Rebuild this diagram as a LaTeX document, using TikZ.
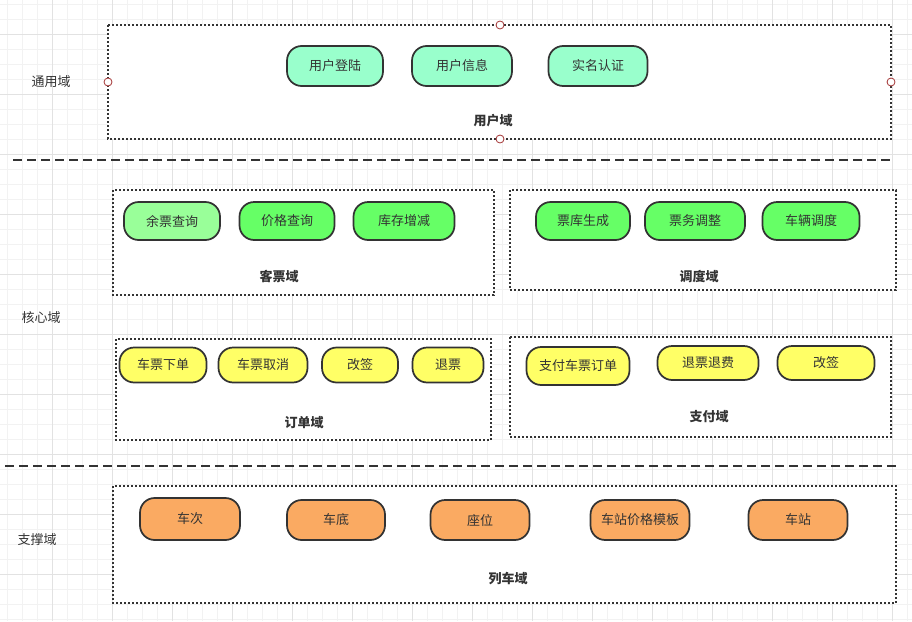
\documentclass[tikz,border=0pt]{standalone}
\usepackage{fontspec}
\setmainfont{Noto Sans CJK SC}
\usepackage{tikz}
\usetikzlibrary{positioning}

\definecolor{ink}{HTML}{333333}
\definecolor{mint}{HTML}{99FFCC}
\definecolor{paleleaf}{HTML}{99FF99}
\definecolor{leaf}{HTML}{66FF66}
\definecolor{lemon}{HTML}{FFFF66}
\definecolor{peach}{HTML}{FAAA62}
\definecolor{gridminor}{HTML}{F2F2F2}
\definecolor{gridmajor}{HTML}{E2E2E2}
\definecolor{portred}{HTML}{A33333}

\begin{document}
\begin{tikzpicture}[
	x=0.75pt, y=-0.75pt,
	font=\fontsize{9.75}{12}\selectfont,
	svc/.style 2 args={draw=ink, line width=1.3pt, rounded corners=11pt,
		minimum width=#1*0.75pt, minimum height=#2*0.75pt,
		inner sep=0pt, text=ink},
	zone/.style={draw=ink, line width=1.5pt, dash pattern=on 1.5pt off 1.5pt, fill=white},
	zonename/.style={font=\fontsize{9.75}{12}\selectfont\bfseries, text=ink},
	layername/.style={text=ink},
	sep/.style={draw=ink, line width=1.5pt, dash pattern=on 7pt off 3.5pt},
	port/.style={draw=portred, fill=white, line width=0.6pt}
]
	\useasboundingbox (0,0) rectangle (912,621);
	% grid
	\foreach \x in {7,22,...,907}
		\draw[gridminor, line width=0.75pt] (\x,0) -- (\x,621);
	\foreach \y in {4,19,...,619}
		\draw[gridminor, line width=0.75pt] (0,\y) -- (912,\y);
	\foreach \x in {52,112,...,892}
		\draw[gridmajor, line width=0.75pt] (\x,0) -- (\x,621);
	\foreach \y in {34,94,...,574}
		\draw[gridmajor, line width=0.75pt] (0,\y) -- (912,\y);

	% layer separators
	\draw[sep] (13,160) -- (893,160);
	\draw[sep] (5,466) -- (896,466);

	% layer names
	\node[layername] (general) at (51,82) {通用域};
	\node[layername] (core) at (41,318) {核心域};
	\node[layername] (support) at (37,540) {支撑域};

	% user domain
	\draw[zone] (108,25) rectangle (891,139);
	\foreach \p in {(500,25),(108,82),(891,82),(500,139)}
		\draw[port] \p circle (3pt);
	\node[zonename] (userdom) at (493,121) {用户域};
	\node[svc={96}{40}, fill=mint] (login) at (335,66) {用户登陆};
	\node[svc={100}{40}, fill=mint] (userinfo) at (462,66) {用户信息};
	\node[svc={99}{40}, fill=mint] (realname) at (598,66) {实名认证};

	% ticket domain
	\draw[zone] (113,190) rectangle (494,295);
	\node[zonename] (ticketdom) at (279,276) {客票域};
	\node[svc={96}{38}, fill=paleleaf] (remain) at (172,221) {余票查询};
	\node[svc={95}{38}, fill=leaf] (price) at (287,221) {价格查询};
	\node[svc={101}{38}, fill=leaf] (stock) at (404,221) {库存增减};

	% dispatch domain
	\draw[zone] (510,190) rectangle (896,290);
	\node[zonename] (dispatchdom) at (699,276) {调度域};
	\node[svc={94}{38}, fill=leaf] (pool) at (583,221) {票库生成};
	\node[svc={100}{38}, fill=leaf] (adjust) at (695,221) {票务调整};
	\node[svc={97}{38}, fill=leaf] (vehicle) at (811,221) {车辆调度};

	% order domain
	\draw[zone] (116,339) rectangle (491,440);
	\node[zonename] (orderdom) at (304,423) {订单域};
	\node[svc={87}{35}, fill=lemon] (place) at (163,365) {车票下单};
	\node[svc={89}{35}, fill=lemon] (cancel) at (263,365) {车票取消};
	\node[svc={76}{35}, fill=lemon] (change) at (360,365) {改签};
	\node[svc={71}{35}, fill=lemon] (refund) at (448,365) {退票};

	% payment domain
	\draw[zone] (510,337) rectangle (891,437);
	\node[zonename] (paydom) at (709,417) {支付域};
	\node[svc={103}{38}, fill=lemon] (pay) at (578,366) {支付车票订单};
	\node[svc={101}{34}, fill=lemon] (repay) at (708,363) {退票退费};
	\node[svc={97}{34}, fill=lemon] (paychange) at (826,363) {改签};

	% train domain
	\draw[zone] (113,486) rectangle (896,603);
	\node[zonename] (traindom) at (508,579) {列车域};
	\node[svc={100}{42}, fill=peach] (trip) at (190,519) {车次};
	\node[svc={98}{40}, fill=peach] (chassis) at (336,520) {车底};
	\node[svc={99}{40}, fill=peach] (seat) at (480,520) {座位};
	\node[svc={99}{40}, fill=peach] (tmpl) at (640,520) {车站价格模板};
	\node[svc={99}{40}, fill=peach] (station) at (798,520) {车站};
\end{tikzpicture}
\end{document}
